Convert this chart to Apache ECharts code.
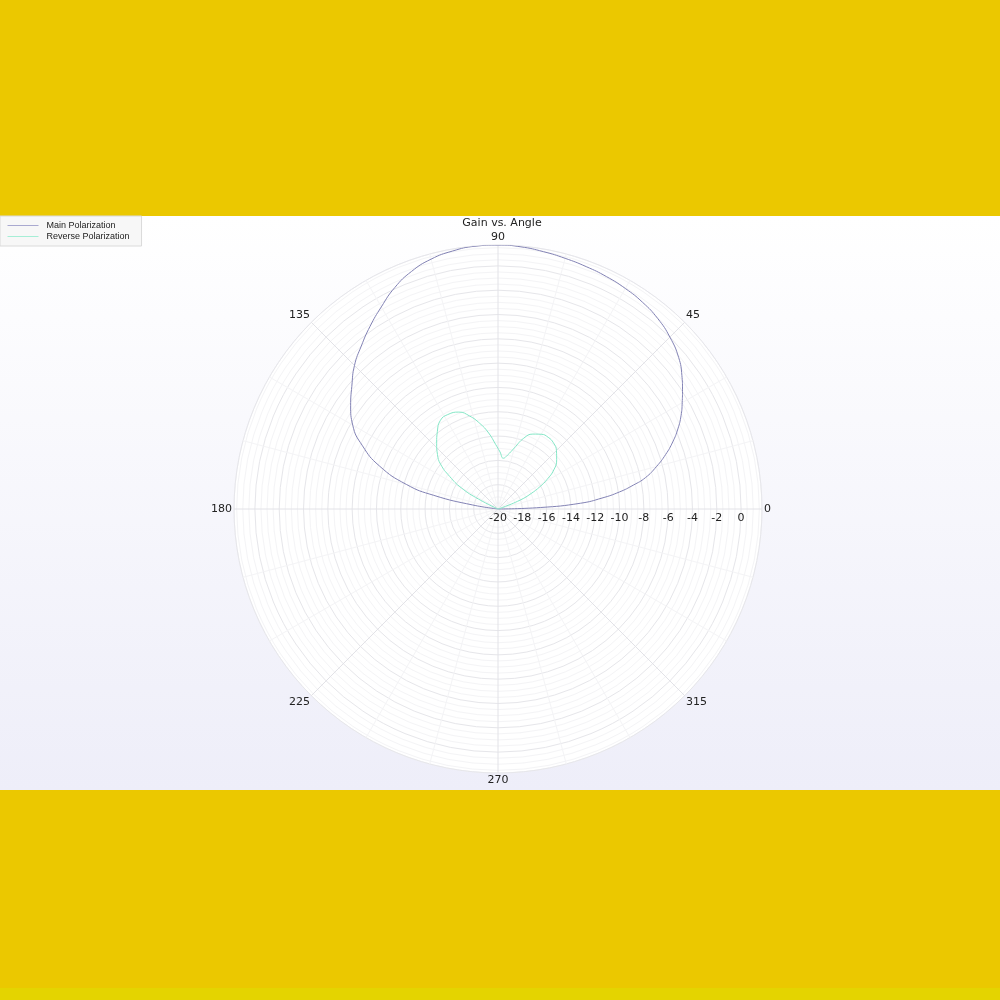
<!DOCTYPE html>
<html>
<head>
	<meta charset="utf-8">
	<title>Gain vs. Angle</title>
	<style>
		html, body { margin: 0; padding: 0; }
		body { width: 1000px; height: 1000px; background: #ebc800; position: relative; overflow: hidden; }
		.panel { position: absolute; left: 0; top: 216px; width: 1000px; height: 574px; background: linear-gradient(#ffffff, #eeeef9); }
		.strip { position: absolute; left: 0; top: 988px; width: 1000px; height: 12px; background: #e4d400; }
		#box_1 { position: absolute; left: 0; top: 0; width: 1000px; height: 1000px; }
	</style>
</head>
<body>
	<div class="panel"></div>
	<div class="strip"></div>
	<div id="box_1"></div>
</body>
<script src="https://cdn.jsdelivr.net/npm/echarts@6/dist/echarts.min.js"></script>
<script>
	// angles in degrees, gain in dB (clipped at -20, the centre of the plot)
	var mainAngles = [0, 2, 4, 6, 8, 10, 12, 15, 18, 21, 24, 27, 30, 33, 36, 40, 45, 50, 55, 60, 65, 70, 75, 80, 85, 90,
		95, 100, 105, 110, 115, 120, 125, 130, 135, 140, 145, 150, 155, 160, 165, 168, 171, 174, 177, 180]
	var mainGain = [-20, -16.5, -13.2, -11.4, -9.9, -8.7, -7.6, -6.5, -5.5, -4.6, -3.8, -3.1, -2.5, -1.9, -1.3, -0.6, 0.0, 0.45, 0.75, 0.95, 1.1, 1.22, 1.35, 1.5, 1.65, 1.72,
		1.7, 1.55, 1.28, 0.8, 0.1, -0.8, -1.65, -2.5, -3.3, -4.3, -5.2, -6.2, -7.7, -9.6, -12.2, -14.6, -17.9, -20, -20, -20]
	var revAngles = [0, 10, 18, 22, 25, 28, 31, 35, 40, 45, 50, 55, 60, 65, 70, 75, 80, 84, 88, 92, 97, 102, 107, 112, 118, 123,
		128, 133, 138, 142, 146, 150, 153, 156, 165, 180]
	var revGain = [-20, -20, -19.6, -18.0, -17.0, -16.1, -15.3, -14.4, -13.7, -13.2, -12.9, -12.8, -12.9, -13.2, -13.8, -14.8, -15.5, -15.8, -15.3, -14.7, -13.7, -12.8, -12.0, -11.4, -11.2, -11.3,
		-11.9, -12.6, -13.3, -14.0, -15.2, -16.5, -18.2, -20, -20, -20]
	var seriesNames = ['Main Polarization', 'Reverse Polarization']
	var seriesColors = ['#8282b4', '#84e6c6']
	var legendColors = ['#a9a9d0', '#a6eed6']
	var rMin = -20
	var rMax = 1.72

	function pairs(angles, gains) {
		var out = []
		for (var i = 0; i < angles.length; i++) {
			out.push([Math.max(gains[i], rMin), angles[i]])
		}
		return out
	}

	var cx = 498, cy = 509, R = 264
	var myChart = echarts.init(document.getElementById('box_1'), null, {renderer: 'canvas'});
	var option = {
		color: seriesColors,
		backgroundColor: 'transparent',
		textStyle: { fontFamily: 'DejaVu Sans' },
		title: {
			text: 'Gain vs. Angle',
			left: 497,
			top: 213,
			textAlign: 'center',
			textStyle: { fontSize: 11, fontWeight: 'normal', color: '#222', fontFamily: 'DejaVu Sans' }
		},
		legend: {
			orient: 'vertical',
			left: 0,
			top: 216,
			padding: [5, 12, 5, 7],
			itemWidth: 31,
			itemHeight: 9,
			itemGap: 2,
			itemStyle: { opacity: 0 },
			lineStyle: { width: 1 },
			backgroundColor: '#f7f7f7',
			borderColor: '#dadada',
			borderWidth: 1,
			textStyle: { fontSize: 9, color: '#222', fontFamily: 'Liberation Sans', padding: [0, 0, 0, 3] },
			data: [
				{ name: seriesNames[0], lineStyle: { color: legendColors[0], width: 1 } },
				{ name: seriesNames[1], lineStyle: { color: legendColors[1], width: 1 } }
			]
		},
		//白色极坐标底
		graphic: [{
			type: 'circle',
			z: -10,
			silent: true,
			shape: { cx: cx, cy: cy, r: R },
			style: { fill: '#ffffff', stroke: '#f0f0f5', lineWidth: 1 }
		}],
		polar: {
			center: [cx, cy],
			radius: R
		},
		angleAxis: {
			type: 'value',
			min: 0,
			max: 360,
			interval: 45,
			startAngle: 0,
			clockwise: false,
			axisLine: { show: false },
			axisTick: { show: false },
			axisLabel: { fontSize: 11, color: '#222', margin: 2, fontFamily: 'DejaVu Sans' },
			splitLine: { show: true, lineStyle: { color: '#e2e2e7', width: 1 } },
			minorTick: { show: false, splitNumber: 3 },
			minorSplitLine: { show: true, lineStyle: { color: '#f4f4f6', width: 1 } }
		},
		radiusAxis: {
			type: 'value',
			min: rMin,
			max: rMax,
			interval: 2,
			axisLine: { show: false },
			axisTick: { show: false },
			axisLabel: { fontSize: 11, color: '#222', margin: -4, verticalAlign: 'top', showMaxLabel: false, fontFamily: 'DejaVu Sans' },
			splitLine: { show: true, lineStyle: { color: '#e6e6ea', width: 1 } },
			minorTick: { show: false, splitNumber: 4 },
			minorSplitLine: { show: true, lineStyle: { color: '#f4f4f6', width: 1 } }
		},
		series: [
			{
				name: seriesNames[0],
				type: 'line',
				coordinateSystem: 'polar',
				data: pairs(mainAngles, mainGain),
				symbol: 'none',
				smooth: 0.5,
				lineStyle: { color: seriesColors[0], width: 1 }
			},
			{
				name: seriesNames[1],
				type: 'line',
				coordinateSystem: 'polar',
				data: pairs(revAngles, revGain),
				symbol: 'none',
				smooth: 0.5,
				lineStyle: { color: seriesColors[1], width: 1 }
			}
		]
	}
	myChart.setOption(option);
</script>
</html>
